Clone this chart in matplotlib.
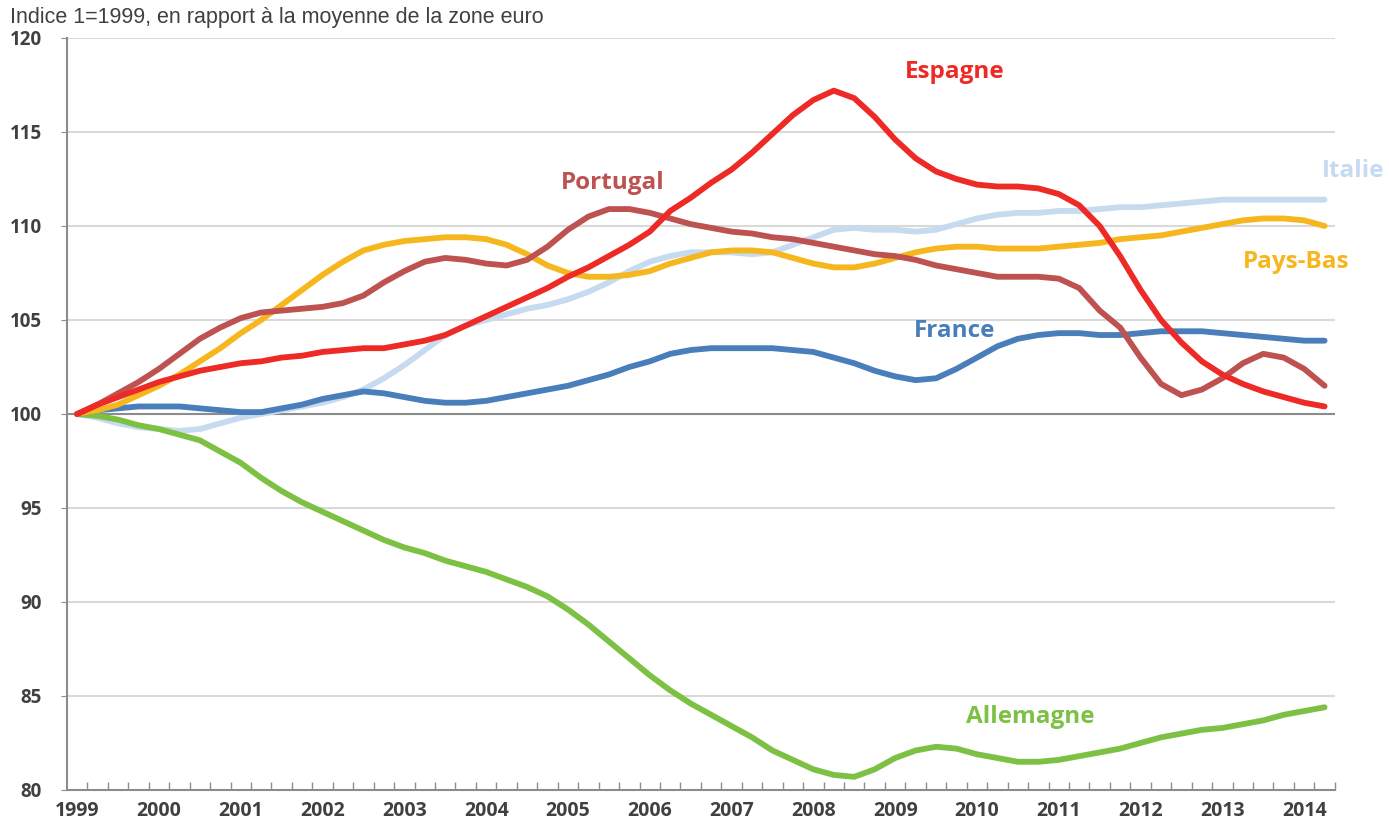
import matplotlib
matplotlib.use("Agg")
import matplotlib.pyplot as plt

# quarterly values, 1999Q1 .. 2014Q2 (62 points)
years = [str(y) for y in range(1999, 2015)]

espagne = [100.0, 100.5, 100.9, 101.3, 101.7, 102.0, 102.3, 102.5, 102.7, 102.8,
           103.0, 103.1, 103.3, 103.4, 103.5, 103.5, 103.7, 103.9, 104.2, 104.7,
           105.2, 105.7, 106.2, 106.7, 107.3, 107.8, 108.4, 109.0, 109.7, 110.8,
           111.5, 112.3, 113.0, 113.9, 114.9, 115.9, 116.7, 117.2, 116.8, 115.8,
           114.6, 113.6, 112.9, 112.5, 112.2, 112.1, 112.1, 112.0, 111.7, 111.1,
           110.0, 108.4, 106.6, 105.0, 103.8, 102.8, 102.1, 101.6, 101.2, 100.9,
           100.6, 100.4]

portugal = [100.0, 100.5, 101.1, 101.7, 102.4, 103.2, 104.0, 104.6, 105.1, 105.4,
            105.5, 105.6, 105.7, 105.9, 106.3, 107.0, 107.6, 108.1, 108.3, 108.2,
            108.0, 107.9, 108.2, 108.9, 109.8, 110.5, 110.9, 110.9, 110.7, 110.4,
            110.1, 109.9, 109.7, 109.6, 109.4, 109.3, 109.1, 108.9, 108.7, 108.5,
            108.4, 108.2, 107.9, 107.7, 107.5, 107.3, 107.3, 107.3, 107.2, 106.7,
            105.5, 104.6, 103.0, 101.6, 101.0, 101.3, 101.9, 102.7, 103.2, 103.0,
            102.4, 101.5]

pays_bas = [100.0, 100.2, 100.5, 101.0, 101.5, 102.1, 102.8, 103.5, 104.3, 105.0,
            105.8, 106.6, 107.4, 108.1, 108.7, 109.0, 109.2, 109.3, 109.4, 109.4,
            109.3, 109.0, 108.5, 107.9, 107.5, 107.3, 107.3, 107.4, 107.6, 108.0,
            108.3, 108.6, 108.7, 108.7, 108.6, 108.3, 108.0, 107.8, 107.8, 108.0,
            108.3, 108.6, 108.8, 108.9, 108.9, 108.8, 108.8, 108.8, 108.9, 109.0,
            109.1, 109.3, 109.4, 109.5, 109.7, 109.9, 110.1, 110.3, 110.4, 110.4,
            110.3, 110.0]

italie = [100.0, 99.8, 99.5, 99.3, 99.2, 99.1, 99.2, 99.5, 99.8, 100.0,
          100.2, 100.4, 100.6, 100.9, 101.3, 101.9, 102.6, 103.4, 104.2, 104.7,
          105.0, 105.3, 105.6, 105.8, 106.1, 106.5, 107.0, 107.6, 108.1, 108.4,
          108.6, 108.6, 108.6, 108.5, 108.6, 109.0, 109.4, 109.8, 109.9, 109.8,
          109.8, 109.7, 109.8, 110.1, 110.4, 110.6, 110.7, 110.7, 110.8, 110.8,
          110.9, 111.0, 111.0, 111.1, 111.2, 111.3, 111.4, 111.4, 111.4, 111.4,
          111.4, 111.4]

france = [100.0, 100.2, 100.3, 100.4, 100.4, 100.4, 100.3, 100.2, 100.1, 100.1,
          100.3, 100.5, 100.8, 101.0, 101.2, 101.1, 100.9, 100.7, 100.6, 100.6,
          100.7, 100.9, 101.1, 101.3, 101.5, 101.8, 102.1, 102.5, 102.8, 103.2,
          103.4, 103.5, 103.5, 103.5, 103.5, 103.4, 103.3, 103.0, 102.7, 102.3,
          102.0, 101.8, 101.9, 102.4, 103.0, 103.6, 104.0, 104.2, 104.3, 104.3,
          104.2, 104.2, 104.3, 104.4, 104.4, 104.4, 104.3, 104.2, 104.1, 104.0,
          103.9, 103.9]

allemagne = [100.0, 99.9, 99.7, 99.4, 99.2, 98.9, 98.6, 98.0, 97.4, 96.6,
             95.9, 95.3, 94.8, 94.3, 93.8, 93.3, 92.9, 92.6, 92.2, 91.9,
             91.6, 91.2, 90.8, 90.3, 89.6, 88.8, 87.9, 87.0, 86.1, 85.3,
             84.6, 84.0, 83.4, 82.8, 82.1, 81.6, 81.1, 80.8, 80.7, 81.1,
             81.7, 82.1, 82.3, 82.2, 81.9, 81.7, 81.5, 81.5, 81.6, 81.8,
             82.0, 82.2, 82.5, 82.8, 83.0, 83.2, 83.3, 83.5, 83.7, 84.0,
             84.2, 84.4]

series = [
    ("Italie", italie, "#c6daf0"),
    ("Allemagne", allemagne, "#7cc144"),
    ("France", france, "#4a7ebb"),
    ("Pays-Bas", pays_bas, "#f6b61e"),
    ("Portugal", portugal, "#bd5250"),
    ("Espagne", espagne, "#ee2a26"),
]

# label positions (quarter index, value)
labels = {
    "Espagne": (42.9, 118.2),
    "Portugal": (26.2, 112.3),
    "Italie": (62.4, 112.9),
    "Pays-Bas": (59.6, 108.1),
    "France": (42.9, 104.4),
    "Allemagne": (46.6, 83.9),
}


def main():
    plt.rcParams['font.family'] = ['Open Sans', 'DejaVu Sans']
    fig = plt.figure(figsize=(13.89, 8.26), dpi=100)
    ax = fig.add_axes([0.0482, 0.0436, 0.9128, 0.9104])

    for y in range(85, 125, 5):
        ax.axhline(y, color="#d9d9d9", lw=1.5, zorder=0)
    ax.axhline(100, color="#8c8c8c", lw=1.5, zorder=1)

    x = list(range(len(espagne)))
    for name, vals, col in series:
        ax.plot(x, vals, color=col, lw=4.2, solid_capstyle="round", zorder=2)
        lx, ly = labels[name]
        ax.text(lx, ly, name, color=col, fontsize=17.5, fontweight="bold",
                ha="center", va="center", clip_on=False)

    ax.set_xlim(-0.5, len(espagne) - 0.5)
    ax.set_ylim(80, 120)
    ax.set_xticks([4 * i for i in range(len(years))])
    ax.set_xticklabels(years)
    ax.set_xticks([k + 0.5 for k in range(len(espagne))], minor=True)
    ax.tick_params(axis="x", which="major", length=0, pad=8,
                   labelsize=14, labelcolor="#404040")
    ax.tick_params(axis="x", which="minor", direction="in", length=6,
                   color="#8c8c8c", width=1)
    ax.set_yticks(range(80, 125, 5))
    ax.tick_params(axis="y", length=4, color="#8c8c8c", pad=14,
                   labelsize=13.5, labelcolor="#404040")
    for lab in ax.get_xticklabels() + ax.get_yticklabels():
        lab.set_fontweight("bold")

    for s in ["top", "right"]:
        ax.spines[s].set_visible(False)
    for s in ["left", "bottom"]:
        ax.spines[s].set_color("#8c8c8c")
        ax.spines[s].set_linewidth(1.5)

    fig.text(0.007, 0.979, "Indice 1=1999, en rapport à la moyenne de la zone euro",
             fontsize=15.5, color="#404040", ha="left", va="center",
             family=["Liberation Sans", "DejaVu Sans"])

    fig.savefig("out.png", dpi=100)


if __name__ == "__main__":
    main()
